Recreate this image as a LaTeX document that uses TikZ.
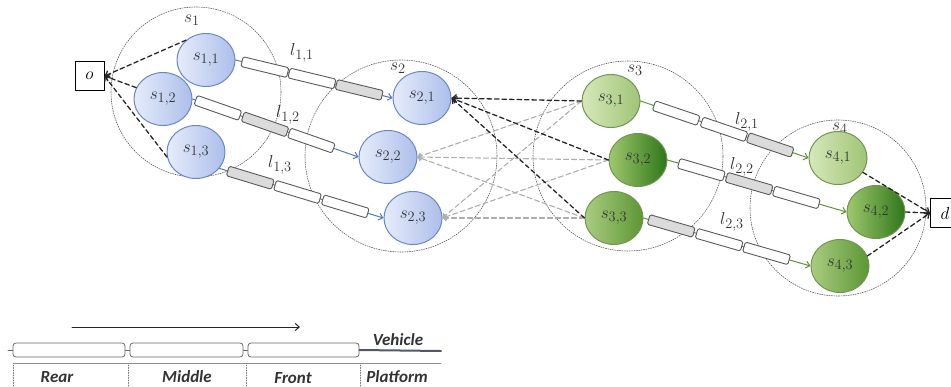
\documentclass[tikz,border=0pt]{standalone}
\usepackage{fontspec}
\newfontfamily\legendfont{Carlito}
\usetikzlibrary{arrows.meta,shapes.geometric}
\definecolor{bluedraw}{RGB}{104,136,200}
\definecolor{blueline}{RGB}{84,120,190}
\definecolor{blueL}{RGB}{230,236,250}
\definecolor{blueR}{RGB}{172,190,234}
\definecolor{greendraw}{RGB}{112,150,80}
\definecolor{greenline}{RGB}{96,146,60}
\definecolor{gLightL}{RGB}{214,232,186}
\definecolor{gLightR}{RGB}{160,196,118}
\definecolor{gMidL}{RGB}{170,204,128}
\definecolor{gMidR}{RGB}{92,150,52}
\definecolor{gDarkL}{RGB}{160,200,110}
\definecolor{gDarkR}{RGB}{46,118,26}
\definecolor{platform}{RGB}{82,88,104}
\tikzset{
    station/.style={ellipse, minimum width=58pt, minimum height=53pt, inner sep=0pt,
        line width=1pt, text=black!80, font=\fontsize{19}{22}\selectfont},
    bstation/.style={station, draw=bluedraw, left color=blueL, right color=blueR},
    gstation/.style 2 args={station, draw=greendraw, left color=#1, right color=#2},
    zone/.style={draw=black!65, line width=0.6pt, dash pattern=on 1.2pt off 1.2pt},
    lab/.style={inner sep=0pt, text=black!80, font=\fontsize{19}{22}\selectfont},
    endbox/.style={draw=black, line width=1pt, minimum size=29pt, inner sep=0pt,
        fill=white, font=\fontsize{18}{22}\selectfont},
    blackdash/.style={draw=black!85, line width=1.3pt, dash pattern=on 4.5pt off 3pt,
        -{Straight Barb[length=4pt,width=7pt]}},
    greydash/.style={draw=black!32, line width=1.1pt, dash pattern=on 5pt off 3pt,
        -{Straight Barb[length=3pt,width=6pt]}},
    bchain/.style={draw=blueline, line width=1pt, -{Straight Barb[length=4pt,width=7pt]}},
    gchain/.style={draw=greenline, line width=1pt, -{Straight Barb[length=4pt,width=7pt]}},
    car/.style={draw=black!65, fill=white, rounded corners=1.5pt, minimum width=47pt,
        minimum height=10pt, inner sep=0pt, line width=0.9pt, sloped},
    carfill/.style={car, fill=black!14},
    legcar/.style={draw=black!60, fill=white, rounded corners=3pt, minimum height=14pt,
        inner sep=0pt, line width=0.8pt},
    legtext/.style={inner sep=0pt, text=black!80, font=\legendfont\bfseries\itshape\fontsize{17}{20}\selectfont},
}

\begin{document}
\begin{tikzpicture}[x=1pt,y=-1pt,line cap=round,line join=round]
\clip (0,0) rectangle (951,386);

% zones
\draw[zone] (196,92) circle (85pt);
\draw[zone] (401,156) circle (96pt);
\draw[zone] (628,156) circle (95pt);
\draw[zone] (838,208) circle (88pt);
\node[lab] (z1) at (192,20) {$s_1$};
\node[lab] (z2) at (398,68) {$s_2$};
\node[lab] (z3) at (635,70) {$s_3$};
\node[lab] (z4) at (840,128) {$s_4$};

% origin and destination
\node[endbox] (o) at (89.5,76) {$o$};
\node[endbox] (d) at (945,213) {$d$};

% stations
\node[bstation] (s11) at (206,60) {$s_{1,1}$};
\node[bstation] (s12) at (163,99) {$s_{1,2}$};
\node[bstation] (s13) at (196,152) {$s_{1,3}$};
\node[bstation] (s21) at (422,98) {$s_{2,1}$};
\node[bstation] (s22) at (388,157) {$s_{2,2}$};
\node[bstation] (s23) at (413,218) {$s_{2,3}$};
\node[gstation={gLightL}{gLightR}] (s31) at (611,101) {$s_{3,1}$};
\node[gstation={gDarkL}{gDarkR}] (s32) at (638,160) {$s_{3,2}$};
\node[gstation={gMidL}{gMidR}] (s33) at (614,218) {$s_{3,3}$};
\node[gstation={gLightL}{gLightR}] (s41) at (838,158) {$s_{4,1}$};
\node[gstation={gDarkL}{gDarkR}] (s42) at (876,212) {$s_{4,2}$};
\node[gstation={gMidL}{gMidR}] (s43) at (840,266) {$s_{4,3}$};

% transfers
\foreach \a in {s22,s23}
    \foreach \b in {s31,s32,s33}
        \draw[greydash] (\b.west) -- (\a.east);
\foreach \b in {s31,s32,s33}
    \draw[blackdash] (\b.west) -- (s21.east);
\draw[blackdash] (s11.135) -- (o.east);
\draw[blackdash] (s12.157) -- (o.east);
\draw[blackdash] (s13.190) -- (o.east);
\draw[blackdash] (s41.-30) -- (d.west);
\draw[blackdash] (s42.east) -- (d.west);
\draw[blackdash] (s43.20) -- (d.west);

% lines with vehicles
\draw[bchain] (s11.east) -- (s21.west)
    node[car,pos=.187] (c11a) {} node[car,pos=.487] (c11b) {} node[carfill,pos=.788] (c11c) {};
\draw[bchain] (s12.east) -- (s22.west)
    node[car,pos=.153] (c12a) {} node[carfill,pos=.437] (c12b) {} node[car,pos=.716] (c12c) {};
\draw[bchain] (s13.-35) -- (s23.west)
    node[carfill,pos=.188] (c13a) {} node[car,pos=.476] (c13b) {} node[car,pos=.767] (c13c) {};
\draw[gchain] (s31.east) -- (s41.west)
    node[car,pos=.213] (c21a) {} node[car,pos=.497] (c21b) {} node[carfill,pos=.772] (c21c) {};
\draw[gchain] (s32.east) -- (s42.west)
    node[car,pos=.189] (c22a) {} node[carfill,pos=.456] (c22b) {} node[car,pos=.72] (c22c) {};
\draw[gchain] (s33.east) -- (s43.west)
    node[carfill,pos=.166] (c23a) {} node[car,pos=.453] (c23b) {} node[car,pos=.737] (c23c) {};
\node[lab] (l11) at (302,53) {$l_{1,1}$};
\node[lab] (l12) at (288,115) {$l_{1,2}$};
\node[lab] (l13) at (280,165) {$l_{1,3}$};
\node[lab] (l21) at (747,122) {$l_{2,1}$};
\node[lab] (l22) at (742,167) {$l_{2,2}$};
\node[lab] (l23) at (732,222) {$l_{2,3}$};

% legend
\coordinate (dir0) at (72,327);
\coordinate (dir1) at (300,327);
\draw[black!85, line width=1pt, -{Straight Barb[length=4pt,width=7pt]}] (dir0) -- (dir1);
\node[legcar, minimum width=112pt] (rear) at (69,350) {};
\node[legcar, minimum width=113pt] (middle) at (186.5,350) {};
\node[legcar, minimum width=111pt] (front) at (303.5,350) {};
\coordinate (hitch) at (8,350);
\draw[black!60, line width=0.8pt] (hitch) -- (rear.west);
\draw[black!60, line width=0.8pt] (rear.east) -- (middle.west);
\draw[black!60, line width=0.8pt] (middle.east) -- (front.west);
\coordinate (pend) at (441,351);
\draw[platform, line width=2pt] (front.east) -- (pend);
\coordinate (g0) at (13,363);
\coordinate (g1) at (441,363);
\draw[black!45, line width=0.8pt] (g0) -- (g1);
\foreach \x in {13,128,246,360}
    \draw[black!55, line width=0.6pt, dash pattern=on 1pt off 1.5pt] (\x,365) -- (\x,386);
\node[legtext] (veh) at (398,340) {Vehicle};
\node[legtext] (tr) at (57,377) {Rear};
\node[legtext] (tm) at (187,377) {Middle};
\node[legtext] (tf) at (293,378) {Front};
\node[legtext] (tp) at (397,377) {Platform};
\end{tikzpicture}
\end{document}
